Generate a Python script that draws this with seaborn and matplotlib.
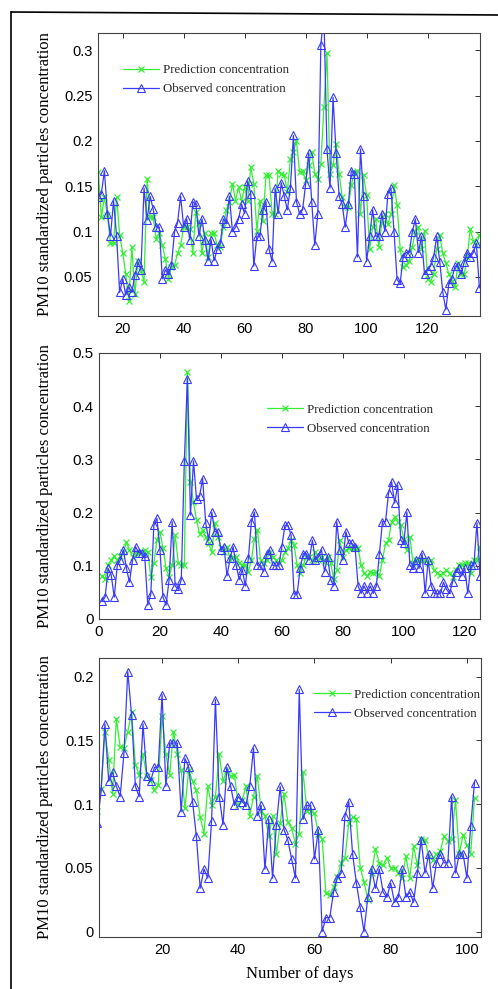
import numpy as np
import pandas as pd
import matplotlib.pyplot as plt
import seaborn as sns
from matplotlib.lines import Line2D

# ---- data ----
days_a = list(range(12, 138))
obs_a = [0.138, 0.142, 0.167, 0.120, 0.095, 0.134, 0.095, 0.033, 0.048, 0.030,
         0.039, 0.033, 0.052, 0.066, 0.058, 0.148, 0.113, 0.139, 0.125, 0.105,
         0.105, 0.048, 0.058, 0.053, 0.063, 0.100, 0.110, 0.139, 0.105, 0.114,
         0.091, 0.133, 0.130, 0.095, 0.114, 0.091, 0.068, 0.091, 0.068, 0.081,
         0.087, 0.114, 0.110, 0.139, 0.100, 0.105, 0.114, 0.130, 0.120, 0.156,
         0.142, 0.062, 0.095, 0.095, 0.124, 0.133, 0.081, 0.067, 0.148, 0.120,
         0.154, 0.139, 0.124, 0.148, 0.206, 0.133, 0.120, 0.124, 0.152, 0.187,
         0.133, 0.085, 0.120, 0.306, 0.340, 0.191, 0.148, 0.248, 0.187, 0.139,
         0.130, 0.105, 0.130, 0.167, 0.164, 0.072, 0.191, 0.139, 0.067, 0.095,
         0.124, 0.095, 0.095, 0.120, 0.100, 0.142, 0.148, 0.100, 0.047, 0.043,
         0.072, 0.077, 0.077, 0.100, 0.114, 0.077, 0.095, 0.053, 0.058, 0.062,
         0.072, 0.095, 0.067, 0.033, 0.014, 0.043, 0.048, 0.062, 0.062, 0.053,
         0.066, 0.077, 0.072, 0.077, 0.087, 0.038]
pred_a = [0.166, 0.116, 0.138, 0.118, 0.087, 0.087, 0.138, 0.096, 0.077, 0.053,
          0.024, 0.083, 0.031, 0.068, 0.057, 0.045, 0.158, 0.116, 0.116, 0.092,
          0.098, 0.085, 0.070, 0.048, 0.061, 0.063, 0.076, 0.085, 0.105, 0.105,
          0.103, 0.077, 0.122, 0.110, 0.076, 0.098, 0.072, 0.098, 0.098, 0.085,
          0.083, 0.105, 0.124, 0.133, 0.153, 0.134, 0.149, 0.134, 0.149, 0.134,
          0.171, 0.153, 0.101, 0.134, 0.112, 0.162, 0.162, 0.120, 0.120, 0.167,
          0.164, 0.162, 0.144, 0.180, 0.188, 0.200, 0.166, 0.167, 0.157, 0.173,
          0.188, 0.164, 0.158, 0.175, 0.237, 0.297, 0.164, 0.173, 0.197, 0.164,
          0.138, 0.127, 0.127, 0.151, 0.166, 0.167, 0.120, 0.162, 0.140, 0.081,
          0.105, 0.114, 0.083, 0.110, 0.120, 0.108, 0.120, 0.151, 0.129, 0.081,
          0.061, 0.063, 0.068, 0.083, 0.101, 0.105, 0.081, 0.101, 0.048, 0.045,
          0.053, 0.081, 0.096, 0.076, 0.065, 0.053, 0.046, 0.039, 0.065, 0.053,
          0.053, 0.072, 0.103, 0.090, 0.085, 0.096]

days_b = list(range(1, 126))
obs_b = [0.034, 0.041, 0.095, 0.083, 0.041, 0.101, 0.111, 0.130, 0.095, 0.069,
         0.111, 0.136, 0.125, 0.125, 0.118, 0.026, 0.047, 0.176, 0.189, 0.130,
         0.041, 0.026, 0.074, 0.183, 0.062, 0.056, 0.074, 0.297, 0.452, 0.195,
         0.297, 0.225, 0.231, 0.264, 0.181, 0.148, 0.201, 0.164, 0.164, 0.130,
         0.136, 0.081, 0.114, 0.136, 0.101, 0.074, 0.093, 0.062, 0.114, 0.183,
         0.201, 0.101, 0.101, 0.089, 0.123, 0.130, 0.101, 0.101, 0.101, 0.136,
         0.176, 0.176, 0.158, 0.047, 0.047, 0.095, 0.123, 0.123, 0.111, 0.148,
         0.111, 0.117, 0.130, 0.089, 0.117, 0.074, 0.062, 0.183, 0.130, 0.111,
         0.164, 0.142, 0.142, 0.136, 0.062, 0.048, 0.062, 0.048, 0.062, 0.048,
         0.062, 0.123, 0.183, 0.183, 0.237, 0.258, 0.218, 0.252, 0.148, 0.142,
         0.201, 0.101, 0.095, 0.111, 0.095, 0.123, 0.048, 0.111, 0.062, 0.048,
         0.048, 0.048, 0.069, 0.056, 0.048, 0.069, 0.089, 0.095, 0.081, 0.095,
         0.048, 0.101, 0.101, 0.181, 0.081]
pred_b = [0.081, 0.076, 0.101, 0.111, 0.118, 0.111, 0.118, 0.126, 0.144, 0.130,
          0.117, 0.126, 0.125, 0.126, 0.130, 0.126, 0.079, 0.105, 0.148, 0.164,
          0.133, 0.095, 0.079, 0.101, 0.158, 0.105, 0.101, 0.101, 0.464, 0.258,
          0.219, 0.186, 0.160, 0.167, 0.155, 0.142, 0.126, 0.180, 0.155, 0.136,
          0.126, 0.136, 0.111, 0.117, 0.117, 0.105, 0.101, 0.101, 0.089, 0.111,
          0.151, 0.167, 0.111, 0.105, 0.111, 0.126, 0.117, 0.111, 0.105, 0.111,
          0.126, 0.133, 0.148, 0.139, 0.101, 0.086, 0.101, 0.117, 0.117, 0.111,
          0.126, 0.111, 0.117, 0.108, 0.117, 0.105, 0.076, 0.092, 0.148, 0.117,
          0.130, 0.133, 0.133, 0.133, 0.133, 0.101, 0.086, 0.081, 0.089, 0.086,
          0.089, 0.081, 0.111, 0.142, 0.148, 0.183, 0.192, 0.183, 0.176, 0.151,
          0.130, 0.155, 0.105, 0.111, 0.111, 0.111, 0.111, 0.105, 0.111, 0.092,
          0.086, 0.083, 0.086, 0.092, 0.086, 0.079, 0.092, 0.101, 0.101, 0.105,
          0.105, 0.086, 0.111, 0.111, 0.135]

days_c = list(range(3, 103))
obs_c = [0.085, 0.110, 0.163, 0.118, 0.125, 0.114, 0.106, 0.140, 0.204, 0.170,
         0.114, 0.106, 0.163, 0.122, 0.118, 0.129, 0.129, 0.186, 0.114, 0.148,
         0.148, 0.148, 0.094, 0.136, 0.129, 0.102, 0.075, 0.034, 0.049, 0.042,
         0.087, 0.182, 0.106, 0.084, 0.129, 0.114, 0.099, 0.106, 0.102, 0.099,
         0.114, 0.144, 0.091, 0.099, 0.049, 0.088, 0.042, 0.084, 0.114, 0.080,
         0.072, 0.057, 0.042, 0.190, 0.088, 0.099, 0.099, 0.057, 0.080, 0.000,
         0.011, 0.011, 0.031, 0.042, 0.046, 0.091, 0.102, 0.061, 0.038, 0.019,
         0.000, 0.027, 0.049, 0.034, 0.049, 0.031, 0.027, 0.038, 0.023, 0.027,
         0.049, 0.027, 0.031, 0.023, 0.046, 0.072, 0.046, 0.061, 0.034, 0.054,
         0.061, 0.054, 0.054, 0.106, 0.046, 0.061, 0.061, 0.042, 0.083, 0.117]
pred_c = [0.095, 0.112, 0.157, 0.135, 0.108, 0.167, 0.145, 0.144, 0.157, 0.172,
          0.131, 0.123, 0.139, 0.122, 0.119, 0.111, 0.115, 0.169, 0.139, 0.123,
          0.157, 0.139, 0.127, 0.097, 0.127, 0.118, 0.111, 0.090, 0.077, 0.114,
          0.099, 0.106, 0.139, 0.118, 0.127, 0.122, 0.123, 0.099, 0.103, 0.114,
          0.091, 0.106, 0.122, 0.095, 0.091, 0.075, 0.091, 0.061, 0.085, 0.108,
          0.086, 0.081, 0.069, 0.077, 0.125, 0.095, 0.095, 0.093, 0.077, 0.073,
          0.030, 0.029, 0.035, 0.043, 0.054, 0.058, 0.085, 0.090, 0.088, 0.050,
          0.039, 0.025, 0.046, 0.065, 0.054, 0.052, 0.058, 0.050, 0.050, 0.046,
          0.042, 0.059, 0.042, 0.067, 0.052, 0.073, 0.072, 0.059, 0.056, 0.061,
          0.063, 0.075, 0.071, 0.073, 0.103, 0.061, 0.076, 0.068, 0.061, 0.105]

ylabel = "PM10 standardized particles concentration"
xlabel = "Number of days"
lab_pred = "Prediction concentration"
lab_obs = "Observed concentration"

GREEN = "#33ee33"
BLUE = "#3a3aff"

sns.set_theme(style="white")
plt.rcParams["font.family"] = ["Liberation Sans", "DejaVu Sans"]
serif = ["Liberation Serif", "DejaVu Serif"]

W, H = 498, 989
fig = plt.figure(figsize=(W / 100, H / 100), dpi=100)


def px_axes(x0, y0, x1, y1):
    # axes rectangle given in image pixels
    return fig.add_axes([x0 / W, 1 - y1 / H, (x1 - x0) / W, (y1 - y0) / H])


def draw_panel(ax, days, pred, obs, xlim, ylim, xticks, yticks, yticklabels,
               leg_xy, ylab_x, tick_fs=10.5):
    df = pd.DataFrame({"day": days, "pred": pred, "obs": obs})
    sns.lineplot(data=df, x="day", y="pred", ax=ax, color=GREEN, lw=0.9,
                 marker="x", markersize=4, markeredgewidth=0.9,
                 markeredgecolor=GREEN,
                 estimator=None, sort=False, label=lab_pred)
    sns.lineplot(data=df, x="day", y="obs", ax=ax, color=BLUE, lw=0.9,
                 marker="^", markersize=5.5, markerfacecolor="none",
                 markeredgecolor=BLUE, markeredgewidth=0.8,
                 estimator=None, sort=False, label=lab_obs)
    ax.set_xlim(*xlim)
    ax.set_ylim(*ylim)
    ax.set_xticks(xticks)
    ax.set_xticklabels([str(t) for t in xticks], fontsize=tick_fs)
    ax.set_yticks(yticks)
    ax.set_yticklabels(yticklabels, fontsize=tick_fs)
    ax.tick_params(direction="in", top=True, right=True, length=3.5,
                   width=0.7, colors="#333333", labelcolor="black", pad=4)
    for s in ax.spines.values():
        s.set_color("#444444")
        s.set_linewidth(0.8)
    ax.set_xlabel("")
    ax.set_ylabel(ylabel, fontsize=12, family=serif, color="black")
    ax.yaxis.set_label_coords(ylab_x, 0.5)
    ax.legend(loc="upper left", bbox_to_anchor=leg_xy, frameon=False,
              prop={"family": serif, "size": 9.3}, handlelength=2.8,
              handletextpad=0.3, borderpad=0, borderaxespad=0,
              labelspacing=0.55)


ax1 = px_axes(98, 33, 480, 316)
draw_panel(ax1, days_a, pred_a, obs_a, (11.9, 137.2), (0.007, 0.319),
           [20, 40, 60, 80, 100, 120], [0.05, 0.1, 0.15, 0.2, 0.25, 0.3],
           ["0.05", "0.1", "0.15", "0.2", "0.25", "0.3"], (0.065, 0.89), -0.118)

ax2 = px_axes(99, 353, 480, 619)
draw_panel(ax2, days_b, pred_b, obs_b, (0, 125), (0, 0.5),
           [0, 20, 40, 60, 80, 100, 120], [0, 0.1, 0.2, 0.3, 0.4, 0.5],
           ["0", "0.1", "0.2", "0.3", "0.4", "0.5"], (0.44, 0.81), -0.121,
           tick_fs=11)

ax3 = px_axes(99, 658, 481, 937)
draw_panel(ax3, days_c, pred_c, obs_c, (3.45, 103.7), (-0.0042, 0.2147),
           [20, 40, 60, 80, 100], [0, 0.05, 0.1, 0.15, 0.2],
           ["0", "0.05", "0.1", "0.15", "0.2"], (0.563, 0.89), -0.12)
ax3.set_xlabel(xlabel, fontsize=12, family=serif, color="black")
ax3.xaxis.set_label_coords(0.525, -0.105)

# cropped outer frame of the original figure
fig.add_artist(Line2D([11 / W, 1.0], [1 - 12 / H, 1 - 15 / H],
                      transform=fig.transFigure, color="black", lw=1.2))
fig.add_artist(Line2D([11 / W, 11 / W], [0, 1 - 12 / H],
                      transform=fig.transFigure, color="black", lw=1.2))

fig.savefig("out.png", dpi=100)
